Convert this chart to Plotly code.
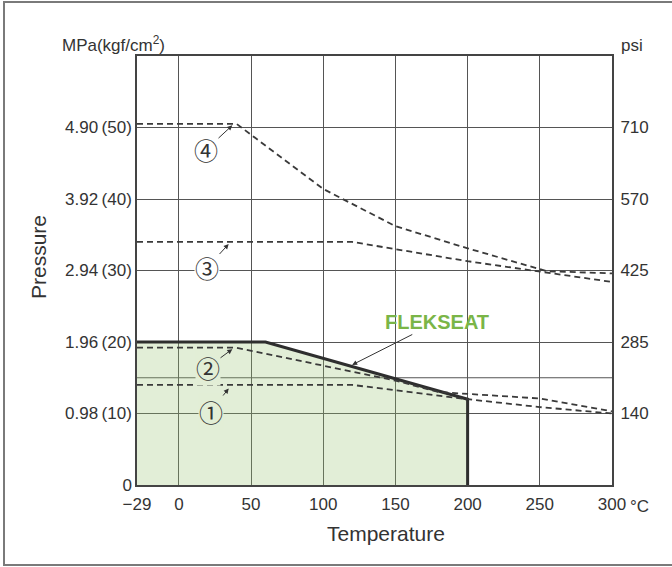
import plotly.graph_objects as go

# ---- data (temperature in °C, pressure in kgf/cm²) ----
flek_t = [-29, 60, 200, 200]
flek_p = [20, 20, 12, 0]

c1_t = [-29, 120, 200, 250, 300]
c1_p = [14, 14, 12, 10.9, 10]

c2_t = [-29, 40, 150, 180, 250, 300]
c2_p = [19.2, 19.2, 14.6, 13.0, 12.1, 10.3]

c3_t = [-29, 120, 200, 300]
c3_p = [34, 34, 31.3, 28.4]

c4_t = [-29, 40, 100, 150, 200, 255, 300]
c4_p = [50.5, 50.5, 41.4, 36.2, 33.1, 29.9, 29.6]

x_ticks = [-29, 0, 50, 100, 150, 200, 250, 300]
x_ticktext = ["\u221229", "0", "50", "100", "150", "200", "250", "300"]

y_ticks = [0, 10, 20, 30, 40, 50]
y_ticktext = ["0", "0.98\u2009(10)", "1.96\u2009(20)", "2.94\u2009(30)",
              "3.92\u2009(40)", "4.90\u2009(50)"]
extra_grid_kgf = [15]

psi_ticks = [10, 20, 30, 40, 50]
psi_ticktext = ["140", "285", "425", "570", "710"]

FONT = "Liberation Sans, Arial, sans-serif"
INK = "#333333"
FILL_APPARENT = "#e2eed6"

fig = go.Figure()

fig.add_trace(go.Scatter(
    x=flek_t, y=flek_p, mode="lines", fill="tozeroy",
    fillcolor="rgba(150,195,110,0.28)",
    line=dict(color="#2e2e2e", width=3), hoverinfo="skip"))

for tt, pp in [(c1_t, c1_p), (c2_t, c2_p), (c3_t, c3_p), (c4_t, c4_p)]:
    fig.add_trace(go.Scatter(
        x=tt, y=pp, mode="lines",
        line=dict(color="#3a3a3a", width=1.8, dash="6px,4px"),
        hoverinfo="skip"))

# invisible trace to carry the right axis
fig.add_trace(go.Scatter(x=[-29], y=[0], yaxis="y2", mode="markers",
                         marker=dict(opacity=0), hoverinfo="skip"))

annotations = []

# circled labels with arrows (x,y = arrow tip; ax,ay = label centre)
circ = [
    ("\u2460", 34.5, 13.5, 22, 10.3, FILL_APPARENT),
    ("\u2461", 37, 19.0, 20.2, 16.5, FILL_APPARENT),
    ("\u2462", 34.5, 33.7, 19.5, 30.4, "white"),
    ("\u2463", 37, 50.3, 18.8, 46.9, "white"),
]
for txt, x, y, ax, ay, bg in circ:
    annotations.append(dict(
        text=txt, x=x, y=y, ax=ax, ay=ay, xref="x", yref="y",
        axref="x", ayref="y", showarrow=True, arrowhead=2, arrowsize=1,
        arrowwidth=1, arrowcolor=INK, bgcolor=bg, borderpad=0,
        font=dict(family="Noto Sans CJK JP", size=24, color=INK)))

annotations.append(dict(
    text="<b>FLEKSEAT</b>", x=120, y=16.8, ax=178.8, ay=22.8,
    xref="x", yref="y", axref="x", ayref="y", showarrow=True,
    arrowhead=2, arrowsize=1, arrowwidth=1, arrowcolor=INK,
    font=dict(family=FONT, size=20, color="#7ab547")))

pix_annotations = [
    dict(text="Pressure", x=38, y=257, textangle=-90,
         font=dict(family=FONT, size=21, color=INK)),
    dict(text="Temperature", x=386, y=533,
         font=dict(family=FONT, size=21, color=INK)),
    dict(text="MPa(kgf/cm<sup>2</sup>)", x=113, y=44,
         font=dict(family=FONT, size=17, color=INK)),
    dict(text="psi", x=632, y=45,
         font=dict(family=FONT, size=17, color=INK)),
    dict(text="\u00b0C", x=639, y=506,
         font=dict(family=FONT, size=17, color=INK)),
]

# plot area in pixels
L, R, T, B = 137, 612, 56, 485
for a in pix_annotations:
    a.update(xref="paper", yref="paper", showarrow=False,
             x=(a["x"] - L) / (R - L), y=(B - a["y"]) / (B - T),
             xanchor="center", yanchor="middle")
annotations += pix_annotations

shapes = [dict(type="rect", xref="paper", yref="paper",
               x0=(4 - L) / (R - L), x1=(720 - L) / (R - L),
               y0=(B - 565) / (B - T), y1=(B - 2) / (B - T),
               line=dict(color="#7a7a7a", width=2), layer="below")]
for g in extra_grid_kgf:
    shapes.append(dict(type="line", xref="paper", yref="y", x0=0, x1=1,
                       y0=g, y1=g, line=dict(color="#555555", width=1),
                       layer="below"))

fig.update_layout(
    width=672, height=567,
    margin=dict(l=L, r=672 - R, t=T, b=567 - B),
    paper_bgcolor="white", plot_bgcolor="white",
    showlegend=False,
    font=dict(family=FONT, color=INK),
    annotations=annotations,
    shapes=shapes,
    xaxis=dict(range=[-29, 300], tickvals=x_ticks, ticktext=x_ticktext,
               showgrid=True, gridcolor="#555555", gridwidth=1,
               showline=True, linecolor="#444444", linewidth=1.5, mirror=True,
               zeroline=False, ticks="outside", ticklen=3,
               tickcolor="rgba(0,0,0,0)", tickfont=dict(size=17, color=INK)),
    yaxis=dict(range=[0, 60], tickvals=y_ticks, ticktext=y_ticktext,
               showgrid=True, gridcolor="#555555", gridwidth=1,
               showline=True, linecolor="#444444", linewidth=1.5, mirror=True,
               zeroline=False, ticks="", tickfont=dict(size=17, color=INK)),
    yaxis2=dict(range=[0, 60], overlaying="y", side="right",
                tickvals=psi_ticks, ticktext=psi_ticktext, showgrid=False,
                zeroline=False, showline=False, ticks="outside", ticklen=4,
                tickcolor="rgba(0,0,0,0)",
                tickfont=dict(size=17, color=INK)),
)

fig.write_html("out.html",
               config={"displayModeBar": False},
               post_script="document.body.style.margin='0';")
